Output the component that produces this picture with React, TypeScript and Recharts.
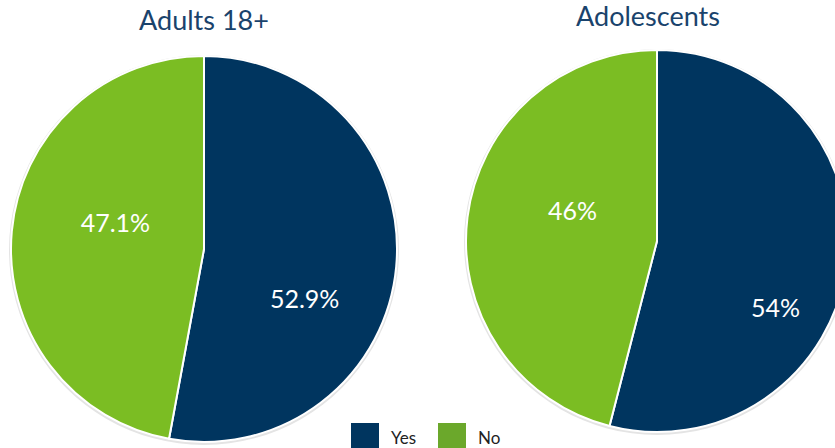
import { PieChart, Pie, Cell } from "recharts"

const categories = ["Yes", "No"]
const adultValues = [52.9, 47.1]
const adolescentValues = [54, 46]
const adultLabels = ["52.9%", "47.1%"]
const adolescentLabels = ["54%", "46%"]
const titles = ["Adults 18+", "Adolescents"]

const colors = ["#00355F", "#7BBD23"]
const legendColors = ["#00355F", "#6BA82B"]
const font = "Lato, 'Open Sans', sans-serif"
const RADIAN = Math.PI / 180

// label placement per slice: angle clockwise from 12 o'clock, radius fraction
const adultLabelPos = [
  { angle: 116, r: 0.58 },
  { angle: 287, r: 0.48 },
]
const adolescentLabelPos = [
  { angle: 119, r: 0.71 },
  { angle: 290, r: 0.47 },
]

const makeLabel = (texts: string[], pos: { angle: number; r: number }[]) => (props: any) => {
  const { cx, cy, outerRadius, index } = props
  const p = pos[index]
  const a = (90 - p.angle) * RADIAN
  const x = cx + outerRadius * p.r * Math.cos(a)
  const y = cy - outerRadius * p.r * Math.sin(a)
  return (
    <text x={x} y={y} fill="#fff" fontSize={25} fontFamily={font} textAnchor="middle" dominantBaseline="central">
      {texts[index]}
    </text>
  )
}

const App = () => {
  const adultData = categories.map((name, i) => ({ name, value: adultValues[i] }))
  const adolData = categories.map((name, i) => ({ name, value: adolescentValues[i] }))

  return (
    <div style={{ position: "absolute", left: 0, top: 0, width: 835, height: 448, overflow: "hidden", background: "#fff", fontFamily: font }}>
      <PieChart width={835} height={448} margin={{ top: 0, right: 0, bottom: 0, left: 0 }}>
        <Pie data={[{ value: 1 }]} dataKey="value" cx={204} cy={250} outerRadius={195} fill="#e4e4e4" stroke="none" isAnimationActive={false} />
        <Pie data={[{ value: 1 }]} dataKey="value" cx={657} cy={242} outerRadius={193} fill="#e4e4e4" stroke="none" isAnimationActive={false} />
        <Pie
          data={adultData}
          dataKey="value"
          cx={204}
          cy={249}
          outerRadius={193}
          startAngle={90}
          endAngle={-270}
          stroke="#fff"
          strokeWidth={2}
          label={makeLabel(adultLabels, adultLabelPos)}
          labelLine={false}
          isAnimationActive={false}
        >
          {adultData.map((d, i) => (
            <Cell key={d.name} fill={colors[i]} />
          ))}
        </Pie>
        <Pie
          data={adolData}
          dataKey="value"
          cx={657}
          cy={241}
          outerRadius={191}
          startAngle={90}
          endAngle={-270}
          stroke="#fff"
          strokeWidth={2}
          label={makeLabel(adolescentLabels, adolescentLabelPos)}
          labelLine={false}
          isAnimationActive={false}
        >
          {adolData.map((d, i) => (
            <Cell key={d.name} fill={colors[i]} />
          ))}
        </Pie>
      </PieChart>
      <div style={{ position: "absolute", left: 101, width: 206, top: 3, textAlign: "center", fontSize: 27, color: "#1A436C" }}>{titles[0]}</div>
      <div style={{ position: "absolute", left: 545, width: 206, top: -1, textAlign: "center", fontSize: 27, color: "#1A436C" }}>{titles[1]}</div>
      <div style={{ position: "absolute", left: 351, top: 423, display: "flex", alignItems: "center", fontSize: 17, color: "#222" }}>
        {categories.map((c, i) => (
          <div key={c} style={{ display: "flex", alignItems: "center", marginRight: 22 }}>
            <div style={{ width: 28, height: 28, background: legendColors[i], marginRight: 12 }} />
            <span>{c}</span>
          </div>
        ))}
      </div>
    </div>
  )
}

export default App
